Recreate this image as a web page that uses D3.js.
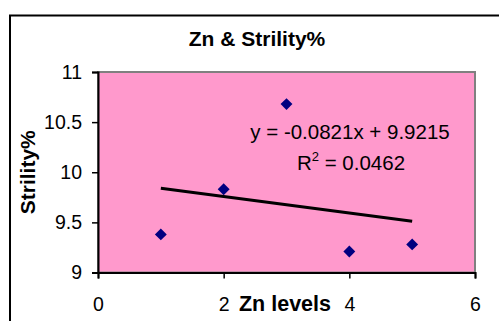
<!DOCTYPE html>
<html>
<head>
<meta charset="utf-8">
<script src="https://cdn.jsdelivr.net/npm/d3@7"></script>
<style>
  body { margin: 0; background: #fff; }
  text { font-family: "Liberation Sans", Arial, sans-serif; fill: #000; }
</style>
</head>
<body>
<svg id="chart"></svg>
<script>
// Zn level vs sterility data
const znLevels = [1, 2, 3, 4, 5];
const strility = [9.38, 9.83, 10.68, 9.21, 9.28];
const xTicks = [0, 2, 4, 6];
const yTicks = [9, 9.5, 10, 10.5, 11];
const trendLabel = "y = -0.0821x + 9.9215";
const r2Value = "0.0462";

const W = 499, H = 321;
const margin = { top: 72, right: 24, bottom: 48, left: 98 };
const width = W - margin.left - margin.right;
const height = H - margin.top - margin.bottom - 0.5;

const svg = d3.select('#chart').attr('width', W).attr('height', H);

// outer chart border
svg.append('rect')
  .attr('x', 10).attr('y', 15.5)
  .attr('width', W).attr('height', H)
  .attr('fill', 'none').attr('stroke', '#000').attr('stroke-width', 2);

const g = svg.append('g').attr('transform', `translate(${margin.left},${margin.top})`);

const x = d3.scaleLinear().domain([0, 6]).range([0, width]);
const y = d3.scaleLinear().domain([9, 11]).range([height, 0]);

// plot area
g.append('rect')
  .attr('width', width).attr('height', height)
  .attr('fill', '#FF99CC').attr('stroke', '#808080').attr('stroke-width', 2);

// axes
const yAxis = g.append('g')
  .call(d3.axisLeft(y).tickValues(yTicks).tickSize(6).tickPadding(10).tickFormat(d3.format('')));
const xAxis = g.append('g')
  .attr('transform', `translate(0,${height})`)
  .call(d3.axisBottom(x).tickValues(xTicks).tickSize(6).tickPadding(19).tickFormat(d3.format('')));

[yAxis, xAxis].forEach(a => {
  a.select('.domain').attr('stroke', '#000').attr('stroke-width', 2);
  a.selectAll('.tick line').attr('stroke', '#000').attr('stroke-width', 1.5);
  a.selectAll('.tick text').attr('font-size', 19.5).attr('font-family', '"Liberation Sans", Arial, sans-serif').attr('fill', '#000');
});

// linear trendline (least squares)
const mx = d3.mean(znLevels), my = d3.mean(strility);
const slope = d3.sum(znLevels, (v, i) => (v - mx) * (strility[i] - my)) / d3.sum(znLevels, v => (v - mx) ** 2);
const icept = my - slope * mx;
const xs = d3.extent(znLevels);
g.append('line')
  .attr('x1', x(xs[0])).attr('y1', y(icept + slope * xs[0]))
  .attr('x2', x(xs[1])).attr('y2', y(icept + slope * xs[1]))
  .attr('stroke', '#000').attr('stroke-width', 3);

// points
g.selectAll('.pt')
  .data(znLevels)
  .enter().append('path')
  .attr('class', 'pt')
  .attr('d', d3.symbol().type(d3.symbolDiamond2).size(90))
  .attr('transform', (d, i) => `translate(${x(d)},${y(strility[i])})`)
  .attr('fill', '#000080');

// trendline label
g.append('text')
  .attr('x', 252).attr('y', 67)
  .attr('text-anchor', 'middle').attr('font-size', 20.5)
  .text(trendLabel);
const r2 = g.append('text')
  .attr('x', 253).attr('y', 98)
  .attr('text-anchor', 'middle').attr('font-size', 20.5);
r2.append('tspan').text('R');
r2.append('tspan').attr('font-size', 13).attr('dy', -9).text('2');
r2.append('tspan').attr('dy', 9).text(' = ' + r2Value);

// titles
svg.append('text')
  .attr('x', 257).attr('y', 46)
  .attr('text-anchor', 'middle').attr('font-size', 21).attr('font-weight', 'bold')
  .text('Zn & Strility%');
svg.append('text')
  .attr('x', 285).attr('y', 311)
  .attr('text-anchor', 'middle').attr('font-size', 21.5).attr('font-weight', 'bold')
  .text('Zn levels');
svg.append('text')
  .attr('transform', `translate(35,${margin.top + height / 2}) rotate(-90)`)
  .attr('text-anchor', 'middle').attr('font-size', 21).attr('font-weight', 'bold')
  .text('Strility%');
</script>
</body>
</html>
